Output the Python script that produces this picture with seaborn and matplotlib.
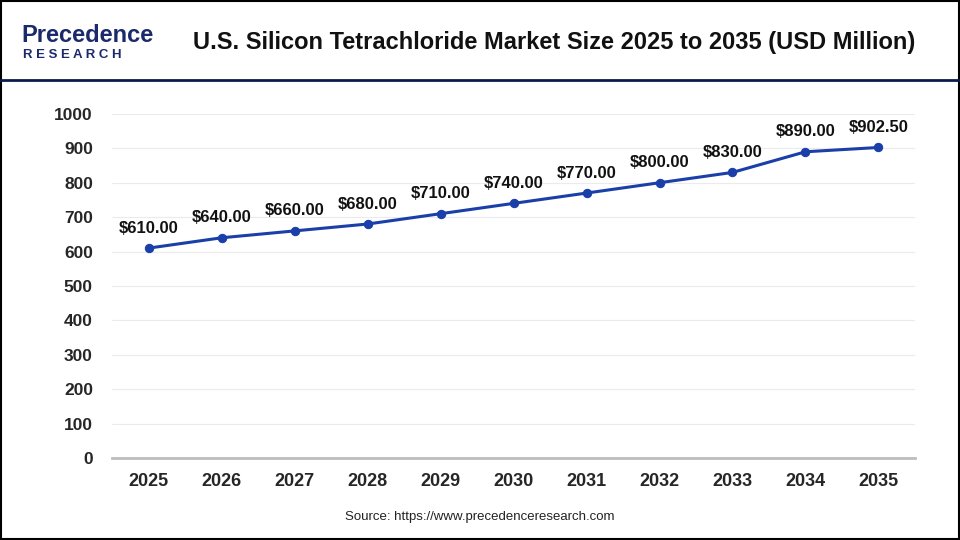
import matplotlib
matplotlib.use("Agg")
import matplotlib.pyplot as plt
import seaborn as sns
import pandas as pd

years = [2025, 2026, 2027, 2028, 2029, 2030, 2031, 2032, 2033, 2034, 2035]
market_size = [610.00, 640.00, 660.00, 680.00, 710.00, 740.00, 770.00, 800.00, 830.00, 890.00, 902.50]
y_ticks = [0, 100, 200, 300, 400, 500, 600, 700, 800, 900, 1000]

df = pd.DataFrame({"year": years, "size": market_size})

sns.set_style("white")
plt.rcParams['font.family'] = ['Liberation Sans', 'DejaVu Sans']

fig = plt.figure(figsize=(9.6, 5.4), dpi=100)
ax = fig.add_axes([0.117, 0.152, 0.836, 0.637])

line_col = "#1a3fa8"
sns.lineplot(data=df, x="year", y="size", ax=ax, color=line_col, linewidth=2.2,
             marker="o", markersize=6, markeredgecolor=line_col)

# etichette valori
for x, y in zip(years, market_size):
    ax.annotate(f"${y:,.2f}", (x, y), xytext=(0, 9), textcoords="offset points",
                ha="center", va="bottom", fontsize=12, fontweight="bold", color="#111111")

ax.set_xlim(2024.5, 2035.5)
ax.set_ylim(0, 1000)
ax.set_xticks(years)
ax.set_xticklabels([str(y) for y in years], fontsize=13, fontweight="bold")
ax.set_yticks(y_ticks)
ax.set_yticklabels([str(t) for t in y_ticks], fontsize=12.5, fontweight="bold")
ax.tick_params(axis="x", pad=11, length=0)
ax.tick_params(axis="y", pad=14, length=0)
ax.set_xlabel("")
ax.set_ylabel("")
ax.grid(axis="y", color="#ebebeb", linewidth=0.8)
ax.set_axisbelow(True)
for s in ["top", "right", "left"]:
    ax.spines[s].set_visible(False)
ax.spines["bottom"].set_color("#bdbdbd")
ax.spines["bottom"].set_linewidth(2)

# intestazione
fig.text(0.577, 0.922, "U.S. Silicon Tetrachloride Market Size 2025 to 2035 (USD Million)",
         ha="center", va="center", fontsize=17, fontweight="bold", color="#111111")
fig.text(0.022, 0.935, "Precedence", ha="left", va="center", fontsize=17,
         color="#1b2a6b", fontweight="bold")
fig.text(0.024, 0.898, "R E S E A R C H", ha="left", va="center", fontsize=9.5,
         color="#1b2a6b", fontweight="bold")
fig.add_artist(plt.Line2D([0, 1], [0.851, 0.851], transform=fig.transFigure,
                          color="#0d1a4a", linewidth=2))
fig.text(0.5, 0.042, "Source: https://www.precedenceresearch.com", ha="center",
         va="center", fontsize=9.5, color="#222222")

# cornice
fig.add_artist(plt.Rectangle((0.001, 0.002), 0.998, 0.996, transform=fig.transFigure,
                             fill=False, edgecolor="black", linewidth=1.5))

fig.savefig("out.png", dpi=100)
